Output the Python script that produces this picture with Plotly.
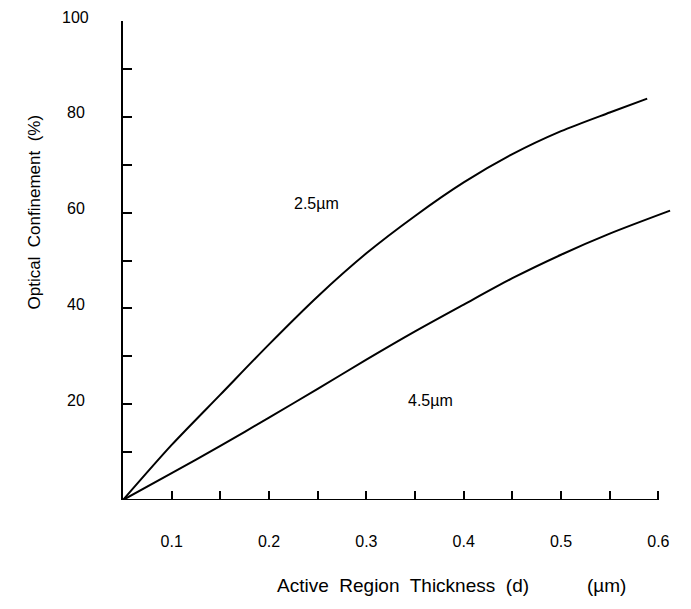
import plotly.graph_objects as go

# Data
x_25 = [0.05, 0.10, 0.15, 0.20, 0.25, 0.30, 0.35, 0.40, 0.45, 0.50, 0.55, 0.5885]
y_25 = [0.0, 11.5, 22.0, 32.5, 42.5, 51.5, 59.3, 66.3, 72.2, 77.0, 80.9, 83.8]

x_45 = [0.05, 0.10, 0.15, 0.20, 0.25, 0.30, 0.35, 0.40, 0.45, 0.50, 0.55, 0.612]
y_45 = [0.0, 5.6, 11.3, 17.2, 23.2, 29.3, 35.2, 40.8, 46.3, 51.2, 55.6, 60.4]

x_tickvals = [0.1, 0.15, 0.2, 0.25, 0.3, 0.35, 0.4, 0.45, 0.5, 0.55, 0.6]
x_ticktext = ["0.1", "", "0.2", "", "0.3", "", "0.4", "", "0.5", "", "0.6"]
y_tickvals = [0, 10, 20, 30, 40, 50, 60, 70, 80, 90, 100]
y_labelvals = [20, 40, 60, 80, 100]
y_labeltext = ["20", "40", "60", "80", "100"]

labels = ["2.5\u00b5m", "4.5\u00b5m"]
label_x = [0.249, 0.366]
label_y = [62.0, 20.8]

FONT = "Liberation Sans, Arial, sans-serif"

fig = go.Figure()
fig.add_trace(go.Scatter(x=x_25, y=y_25, mode="lines",
                         line=dict(color="black", width=2, shape="spline", smoothing=0.8),
                         showlegend=False, hoverinfo="skip"))
fig.add_trace(go.Scatter(x=x_45, y=y_45, mode="lines",
                         line=dict(color="black", width=2, shape="spline", smoothing=0.8),
                         showlegend=False, hoverinfo="skip"))

for t, lx, ly in zip(labels, label_x, label_y):
    fig.add_annotation(x=lx, y=ly, xref="x", yref="y", text=t, showarrow=False,
                       font=dict(family=FONT, size=16, color="black"))

for v, t in zip(y_labelvals, y_labeltext):
    fig.add_annotation(x=-0.0855, y=v, xref="paper", yref="y", yshift=4,
                       xanchor="center", text=t, showarrow=False,
                       font=dict(family=FONT, size=16, color="black"))

# x-axis baseline from 0.05 to 0.6
fig.add_shape(type="line", xref="x", yref="y", x0=0.05, x1=0.6, y0=0, y1=0,
              line=dict(color="black", width=2))

fig.add_annotation(xref="paper", yref="paper", x=-0.182, y=0.601, textangle=-90,
                   text="Optical  Confinement  (%)", showarrow=False,
                   font=dict(family=FONT, size=17, color="black"))
fig.add_annotation(xref="paper", yref="paper", x=0.509, y=-0.2046,
                   text="Active  Region  Thickness  (d)", showarrow=False,
                   font=dict(family=FONT, size=19, color="black"))
fig.add_annotation(xref="paper", yref="paper", x=0.918, y=-0.2046,
                   text="(\u00b5m)", showarrow=False,
                   font=dict(family=FONT, size=19, color="black"))

fig.update_layout(
    width=691, height=609,
    margin=dict(l=123, r=18, t=21, b=109),
    plot_bgcolor="white", paper_bgcolor="white",
    font=dict(family=FONT, color="black"),
    xaxis=dict(range=[0.05, 0.615], showline=False, showgrid=False, zeroline=False,
               tickmode="array", tickvals=x_tickvals, ticktext=x_ticktext,
               ticks="inside", ticklen=9, tickwidth=1.5, tickcolor="black",
               ticklabelstandoff=30, tickfont=dict(family=FONT, size=16, color="black")),
    yaxis=dict(range=[0, 100], showline=True, linecolor="black", linewidth=2,
               showgrid=False, zeroline=False,
               tickmode="array", tickvals=y_tickvals, showticklabels=False,
               ticks="inside", ticklen=9, tickwidth=1.5, tickcolor="black"),
)

fig.write_html("out.html")
